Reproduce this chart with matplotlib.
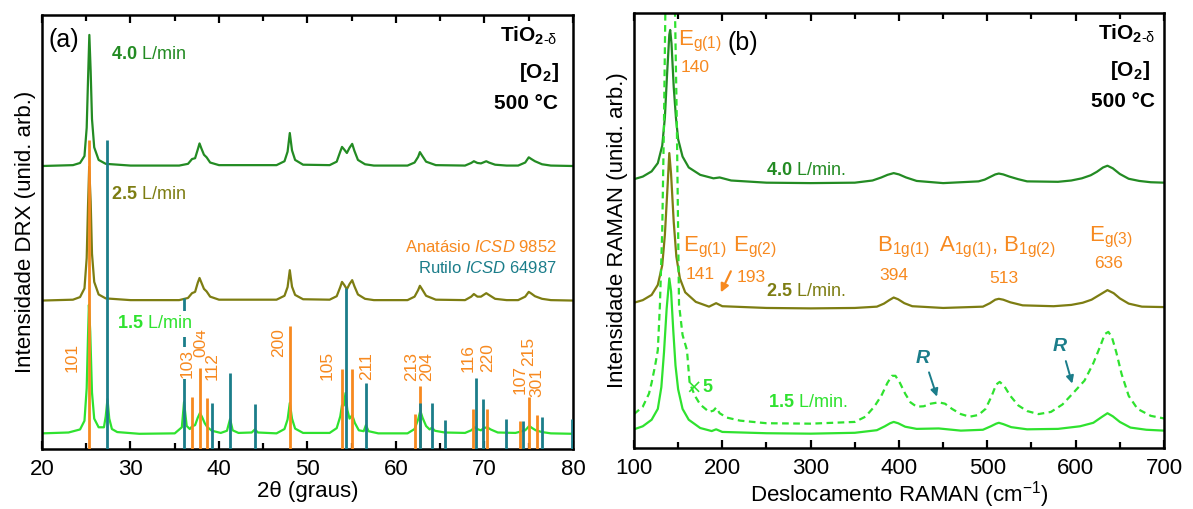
import matplotlib
matplotlib.use('Agg')
import matplotlib.pyplot as plt
from matplotlib.ticker import MultipleLocator

plt.rcParams['font.family'] = ['Liberation Sans', 'DejaVu Sans']
plt.rcParams['mathtext.fontset'] = 'custom'
plt.rcParams['mathtext.rm'] = 'Liberation Sans'
plt.rcParams['mathtext.it'] = 'Liberation Sans:italic'
plt.rcParams['mathtext.bf'] = 'Liberation Sans:bold'

# colours
C40 = '#238b23'
C25 = '#7d7d12'
C15 = '#2fe22f'
ORANGE = '#f7891f'
TEAL = '#1b7d8a'

# ---------------- (a) DRX data ----------------
drx_40 = [(20, 65.2), (23.5, 65.4), (24.3, 65.9), (24.8, 67.5), (25.05, 74), (25.2, 85),
          (25.35, 95.4), (25.5, 87), (25.65, 76), (25.9, 69.5), (26.4, 66.6), (27.2, 65.7),
          (30, 65.3), (35.5, 65.3), (36.5, 65.7), (36.95, 66.8), (37.3, 67.0), (37.6, 69),
          (37.8, 70.4), (38.0, 69.3), (38.3, 67.8), (38.6, 67.2), (39.0, 66.0), (40.0, 65.4),
          (46.5, 65.4), (47.4, 66.3), (47.75, 68.5), (48.0, 72.8), (48.25, 68.8), (48.6, 66.6),
          (49.5, 65.5), (52.5, 65.4), (53.3, 66.2), (53.7, 68.5), (53.9, 69.6), (54.15, 69.0),
          (54.45, 68.2), (54.75, 69.4), (55.05, 70.3), (55.3, 68.7), (55.7, 66.6), (56.5, 65.6),
          (57.5, 65.3), (61.3, 65.3), (62.1, 66.0), (62.5, 67.3), (62.7, 68.4), (62.95, 67.6),
          (63.4, 66.2), (64.5, 65.4), (67.8, 65.3), (68.5, 65.9), (68.8, 66.3), (69.2, 65.9),
          (69.6, 65.8), (70.2, 66.3), (70.5, 66.0), (71.2, 65.5), (72.5, 65.3), (73.8, 65.3),
          (74.6, 66.0), (75.0, 67.2), (75.3, 66.8), (75.7, 66.3), (76.5, 65.6), (77.5, 65.3),
          (80, 65.2)]

drx_25 = [(20, 34.2), (23.5, 34.4), (24.3, 35.0), (24.8, 37.0), (25.05, 44), (25.2, 56),
          (25.33, 65.0), (25.5, 57), (25.65, 45), (25.9, 38.5), (26.4, 35.6), (27.2, 34.7),
          (30, 34.3), (35.5, 34.3), (36.5, 34.8), (36.95, 35.9), (37.3, 36.2), (37.6, 38.3),
          (37.8, 39.4), (38.0, 38.4), (38.3, 36.9), (38.6, 36.3), (39.0, 35.1), (40.0, 34.4),
          (46.5, 34.4), (47.4, 35.3), (47.75, 37.3), (48.0, 41.2), (48.25, 37.4), (48.6, 35.5),
          (49.5, 34.5), (52.5, 34.4), (53.3, 35.2), (53.7, 37.3), (53.9, 38.5), (54.15, 37.8),
          (54.45, 36.8), (54.75, 38.0), (55.05, 38.9), (55.3, 37.5), (55.7, 35.6), (56.5, 34.6),
          (57.5, 34.3), (61.3, 34.3), (62.1, 35.1), (62.5, 36.6), (62.7, 37.6), (62.95, 36.8),
          (63.4, 35.3), (64.5, 34.4), (67.8, 34.3), (68.5, 35.1), (68.8, 35.7), (69.2, 35.1),
          (69.6, 35.1), (70.2, 35.9), (70.5, 35.5), (71.2, 34.6), (72.5, 34.3), (73.8, 34.3),
          (74.6, 35.1), (75.0, 36.2), (75.3, 35.8), (75.7, 35.2), (76.5, 34.6), (77.5, 34.3),
          (80, 34.2)]

drx_15 = [(20, 3.6), (23, 3.8), (24.3, 4.5), (24.8, 6.5), (25.05, 14), (25.2, 26),
          (25.3, 33.2), (25.45, 27), (25.65, 13), (25.9, 7), (26.4, 5), (27.0, 5),
          (27.2, 7.5), (27.4, 11.5), (27.6, 7.0), (27.9, 4.6), (28.5, 3.9), (31, 3.5),
          (35.0, 3.6), (35.8, 5.0), (36.05, 10.8), (36.35, 5.3), (36.7, 4.6), (36.95, 5.2),
          (37.3, 5.5), (37.6, 7.2), (37.85, 8.3), (38.1, 7.3), (38.4, 5.9), (38.7, 5.0),
          (39.2, 4.2), (40.2, 3.7), (40.9, 4.2), (41.25, 6.9), (41.55, 4.3), (42.2, 3.7),
          (43.7, 3.8), (44.05, 4.5), (44.4, 3.8), (46.5, 3.6), (47.4, 4.6), (47.75, 6.8),
          (48.0, 10.6), (48.25, 7), (48.6, 4.7), (49.5, 3.7), (52.5, 3.7), (53.3, 4.8),
          (53.7, 7.5), (53.9, 10.1), (54.1, 10.0), (54.3, 12.9), (54.5, 9.0), (54.75, 7.0),
          (55.05, 7.8), (55.35, 6.0), (55.8, 4.3), (56.35, 4.1), (56.6, 5.5), (56.9, 4.1),
          (58, 3.6), (61.3, 3.6), (62.1, 4.6), (62.5, 6.8), (62.75, 8.8), (63.0, 7.2),
          (63.4, 5.3), (63.8, 4.5), (64.05, 4.9), (64.4, 4.2), (65.5, 3.8), (67.8, 3.7),
          (68.5, 4.3), (68.9, 5.0), (69.3, 4.5), (69.6, 4.3), (69.9, 4.8), (70.3, 5.0),
          (70.7, 4.5), (71.5, 3.8), (73.5, 3.7), (74.6, 4.3), (75.05, 5.3), (75.4, 4.8),
          (75.8, 4.3), (76.5, 3.9), (77.5, 3.6), (80, 3.5)]

# reference sticks
anatase_hkl = ['101', '103', '004', '112', '200', '105', '211', '213', '204',
               '116', '220', '107', '215', '301']
anatase_2t = [25.35, 36.95, 37.85, 38.6, 48.0, 53.87, 55.05, 62.1, 62.7,
              68.75, 70.3, 74.0, 75.05, 75.95]
anatase_h = [71.2, 12.0, 18.7, 11.8, 28.3, 18.5, 18.5, 8.0, 14.5,
             9.2, 9.2, 6.5, 12.0, 7.8]
rutile_2t = [27.4, 36.1, 39.2, 41.25, 44.05, 54.3, 56.6, 62.75, 64.05,
             65.5, 69.0, 69.8, 72.4, 74.4, 76.55, 79.85]
rutile_h = [71.2, 34.8, 10.6, 17.5, 10.4, 37.0, 15.2, 10.6, 10.6,
            6.7, 16.4, 11.5, 6.9, 6.5, 7.4, 6.9]
# label anchors for hkl text (x, y centre)
hkl_pos = [(23.4, 21), (36.35, 19.8), (37.9, 24.6), (39.25, 19), (46.7, 24.6),
           (52.2, 19.3), (56.7, 19), (61.8, 19), (63.5, 19), (68.1, 21),
           (70.3, 21), (74.0, 16), (75.0, 22.4), (75.95, 15.4)]

# ---------------- (b) RAMAN data ----------------
raman_40 = [(100, 61.8), (110, 62.4), (120, 63.6), (127, 65.5), (132, 69.5), (135, 76),
            (137.5, 86), (140, 95), (141, 96.1), (142.5, 93), (145, 83), (147.5, 76),
            (150, 71), (155, 67), (162, 64.5), (175, 62.8), (190, 62), (197, 62.2),
            (210, 61.5), (250, 61), (300, 60.9), (350, 61), (370, 61.5), (380, 62.2),
            (387, 62.8), (394, 63.2), (400, 62.9), (408, 62.2), (420, 61.4), (450, 60.9),
            (490, 61.3), (497, 61.7), (504, 62.4), (509, 62.9), (513, 63.1), (518, 62.9),
            (525, 62.4), (535, 61.8), (545, 61.3), (580, 61.2), (595, 61.5), (607, 62.0),
            (617, 62.7), (624, 63.5), (631, 64.5), (636, 64.9), (642, 64.3), (650, 63.0),
            (660, 61.9), (672, 61.4), (685, 61.1), (700, 61.0)]

raman_25 = [(100, 33.4), (110, 34), (120, 35.2), (127, 37.5), (132, 42), (135, 49),
            (138, 60), (140, 67.8), (142, 63), (145, 52), (148, 44), (152, 39),
            (158, 35.8), (170, 33.6), (185, 32.5), (193, 33.3), (200, 32.6), (250, 32.2),
            (300, 32.1), (350, 32.2), (375, 32.5), (383, 33.2), (389, 34.0), (394, 34.6),
            (399, 34.2), (406, 33.3), (415, 32.6), (450, 32.2), (495, 32.5), (503, 33.3),
            (509, 34.1), (513, 34.3), (518, 34.1), (526, 33.5), (540, 32.8), (575, 32.6),
            (595, 32.9), (608, 33.4), (618, 34.1), (627, 35.2), (636, 36.3), (643, 35.6),
            (650, 34.4), (660, 33.2), (675, 32.5), (700, 32.4)]

raman_15 = [(100, 4.3), (110, 5), (120, 6.5), (127, 9), (131, 14), (134, 22),
            (137, 32), (140, 39), (142, 36), (144.5, 27), (147, 19), (150, 13.5),
            (155, 9), (162, 6.5), (175, 4.6), (188, 3.9), (193, 4.3), (200, 3.7),
            (250, 3.4), (300, 3.3), (350, 3.5), (375, 4.1), (384, 5.0), (390, 5.7),
            (394, 6.0), (399, 5.7), (407, 4.9), (420, 4.4), (445, 4.5), (470, 4.0),
            (495, 4.2), (504, 5.0), (510, 5.6), (513, 5.8), (518, 5.5), (527, 4.8),
            (545, 4.3), (580, 4.4), (605, 5.0), (620, 5.8), (630, 7.2), (636, 8.0),
            (642, 7.3), (650, 6.0), (662, 4.7), (680, 4.2), (700, 4.0)]

raman_15x5 = [(100, 7.8), (110, 9.5), (117, 12.5), (120, 15), (124, 19), (127, 22.5),
              (129.4, 33), (132, 50), (134, 75), (135.5, 100), (141, 130), (146.5, 100),
              (148.5, 75), (151, 33), (155, 26), (160, 22.5), (163, 15), (169, 12),
              (175, 10), (185, 8.3), (190, 8.6), (193, 9.3), (197, 8.0), (205, 7.0),
              (220, 6.3), (250, 5.7), (300, 5.6), (350, 6.0), (362, 7.2), (372, 9.5),
              (380, 12), (387, 15), (392, 16.6), (396, 16.6), (401, 15), (407, 12.5),
              (413, 10.5), (420, 9.5), (428, 9.6), (436, 10.2), (445, 10.5), (452, 10.2),
              (460, 9.0), (470, 7.8), (480, 7.2), (490, 7.6), (498, 9), (505, 12),
              (510, 14.6), (514, 15.2), (519, 14.3), (526, 12), (535, 9.8), (545, 8.5),
              (558, 7.8), (572, 8.3), (585, 10), (597, 12.6), (610, 15.5), (620, 19.5),
              (628, 23.5), (633, 26.2), (637, 26.7), (641, 25.5), (646, 22), (652, 17),
              (660, 12), (670, 9), (685, 7.4), (700, 6.8)]


def xy(pts):
    return [p[0] for p in pts], [p[1] for p in pts]


def style_axes(ax):
    for s in ax.spines.values():
        s.set_linewidth(1.8)
    ax.tick_params(axis='x', which='both', direction='in', top=True, labelsize=16,
                   width=1.6, pad=7)
    ax.tick_params(axis='x', which='major', length=6)
    ax.tick_params(axis='x', which='minor', length=4)
    ax.tick_params(axis='y', which='both', left=False, right=False, labelleft=False)
    ax.set_ylim(0, 100)


fig = plt.figure(figsize=(11.93, 5.09), dpi=100)
ax1 = fig.add_axes([0.0352, 0.1179, 0.4451, 0.8527])
ax2 = fig.add_axes([0.5314, 0.1198, 0.4443, 0.8546])

# ---------------- panel (a) ----------------
for pts, c in [(drx_40, C40), (drx_25, C25), (drx_15, C15)]:
    x, y = xy(pts)
    ax1.plot(x, y, color=c, lw=1.6, zorder=2)

ax1.vlines(anatase_2t, 0, anatase_h, color=ORANGE, lw=2, zorder=3)
ax1.vlines(rutile_2t, 0, rutile_h, color=TEAL, lw=2, zorder=3)

for lab, (lx, ly) in zip(anatase_hkl, hkl_pos):
    bb = None
    if lab == '103':
        bb = dict(facecolor='white', edgecolor='none', pad=1)
    ax1.text(lx, ly, lab, rotation=90, color=ORANGE, fontsize=12.5,
             ha='center', va='center', zorder=4, bbox=bb)

ax1.text(27.8, 91, r'$\mathbf{4.0}$ L/min', color=C40, fontsize=13, va='center')
ax1.text(27.8, 58.7, r'$\mathbf{2.5}$ L/min', color=C25, fontsize=13, va='center')
ax1.text(28.5, 28.8, r'$\mathbf{1.5}$ L/min', color=C15, fontsize=13, va='center',
         zorder=4, bbox=dict(facecolor='white', edgecolor='none', pad=3))
ax1.text(20.7, 94.2, '(a)', fontsize=18, va='center')
ax1.text(78.3, 95.2, r'TiO$_{\mathbf{2\text{-}}\mathrm{\delta}}$', fontsize=15,
         fontweight='bold', ha='right', va='center')
ax1.text(76.2, 86.8, r'$\mathbf{[O_2]}$', fontsize=15, ha='center', va='center')
ax1.text(78.3, 79.7, '500 °C', fontsize=15, fontweight='bold', ha='right', va='center')
ax1.text(78.2, 46.5, r'Anatásio $\it{ICSD}$ 9852', color=ORANGE, fontsize=12,
         ha='right', va='center')
ax1.text(78.2, 41.6, r'Rutilo $\it{ICSD}$ 64987', color=TEAL, fontsize=12,
         ha='right', va='center')

ax1.set_xlim(20, 80)
ax1.xaxis.set_major_locator(MultipleLocator(10))
ax1.xaxis.set_minor_locator(MultipleLocator(5))
style_axes(ax1)
ax1.set_xlabel('2θ (graus)', fontsize=16, labelpad=1)
ax1.set_ylabel('Intensidade DRX (unid. arb.)', fontsize=16, labelpad=4)

# ---------------- panel (b) ----------------
for pts, c in [(raman_40, C40), (raman_25, C25), (raman_15, C15)]:
    x, y = xy(pts)
    ax2.plot(x, y, color=c, lw=1.6)
x, y = xy(raman_15x5)
ax2.plot(x, y, color=C15, lw=1.6, linestyle=(0, (3, 2)))

ax2.text(223, 93.1, '(b)', fontsize=18, va='center', ha='center')
ax2.text(150, 93.5, r'E$_{\mathrm{g(1)}}$', color=ORANGE, fontsize=16, va='center')
ax2.text(153, 87.5, '140', color=ORANGE, fontsize=12.5, va='center')
ax2.text(250, 63.8, r'$\mathbf{4.0}$ L/min.', color=C40, fontsize=13, va='center')

ax2.text(155, 46, r'E$_{\mathrm{g(1)}}$', color=ORANGE, fontsize=16, va='center')
ax2.text(158, 40, '141', color=ORANGE, fontsize=12.5, va='center')
ax2.text(212, 46, r'E$_{\mathrm{g(2)}}$', color=ORANGE, fontsize=16, va='center')
ax2.text(216, 39.3, '193', color=ORANGE, fontsize=12.5, va='center')
ax2.annotate('', xy=(197, 35.2), xytext=(211, 41.2),
             arrowprops=dict(arrowstyle='-|>', color=ORANGE, lw=1.6,
                             mutation_scale=12))
ax2.text(250, 36, r'$\mathbf{2.5}$ L/min.', color=C25, fontsize=13, va='center')

ax2.text(375, 46, r'B$_{\mathrm{1g(1)}}$', color=ORANGE, fontsize=16, va='center')
ax2.text(394, 39.6, '394', color=ORANGE, fontsize=12.5, va='center', ha='center')
ax2.text(512, 46, r'A$_{\mathrm{1g(1)}}$, B$_{\mathrm{1g(2)}}$', color=ORANGE,
         fontsize=16, va='center', ha='center')
ax2.text(519, 39.0, '513', color=ORANGE, fontsize=12.5, va='center', ha='center')
ax2.text(640, 48.5, r'E$_{\mathrm{g(3)}}$', color=ORANGE, fontsize=16, va='center',
         ha='center')
ax2.text(637, 42.5, '636', color=ORANGE, fontsize=12.5, va='center', ha='center')

ax2.text(167, 13.8, '×', color=C15, fontsize=14, va='center', ha='center',
         family=['DejaVu Sans'])
ax2.text(177.5, 13.8, '5', color=C15, fontsize=13, fontweight='bold', va='center')
ax2.text(252, 10.4, r'$\mathbf{1.5}$ L/min.', color=C15, fontsize=13, va='center')

ax2.text(427, 20.5, 'R', color=TEAL, fontsize=14, fontweight='bold', style='italic',
         ha='center', va='center')
ax2.annotate('', xy=(444, 11.2), xytext=(433, 18.0),
             arrowprops=dict(arrowstyle='-|>', color=TEAL, lw=1.4, mutation_scale=11))
ax2.text(582, 23.3, 'R', color=TEAL, fontsize=14, fontweight='bold', style='italic',
         ha='center', va='center')
ax2.annotate('', xy=(597, 14.2), xytext=(588, 20.6),
             arrowprops=dict(arrowstyle='-|>', color=TEAL, lw=1.4, mutation_scale=11))

ax2.text(690, 95.2, r'TiO$_{\mathbf{2\text{-}}\mathrm{\delta}}$', fontsize=15,
         fontweight='bold', ha='right', va='center')
ax2.text(662, 86.8, r'$\mathbf{[O_2]}$', fontsize=15, ha='center', va='center')
ax2.text(690, 79.7, '500 °C', fontsize=15, fontweight='bold', ha='right', va='center')

ax2.set_xlim(100, 700)
ax2.xaxis.set_major_locator(MultipleLocator(100))
ax2.xaxis.set_minor_locator(MultipleLocator(50))
style_axes(ax2)
ax2.set_xlabel(r'Deslocamento RAMAN (cm$^{-1}$)', fontsize=16, labelpad=0)
ax2.set_ylabel('Intensidade RAMAN (unid. arb.)', fontsize=16, labelpad=4)

fig.savefig('out.png', dpi=100)
